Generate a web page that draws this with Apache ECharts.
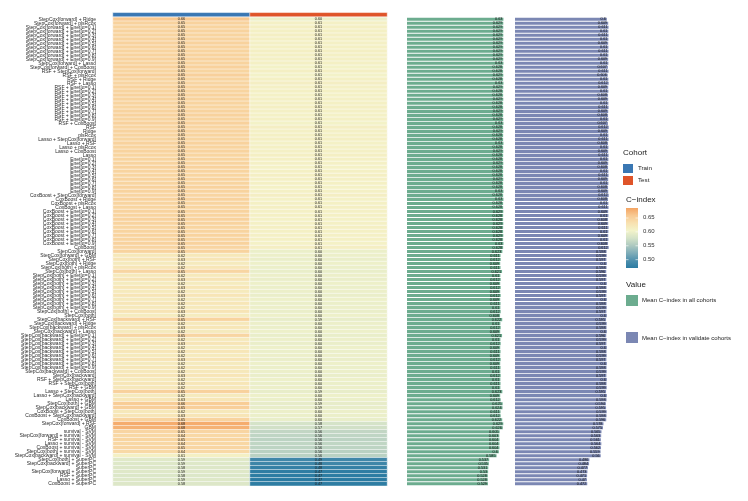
<!DOCTYPE html>
<html><head><meta charset="utf-8">
<script src="https://cdn.jsdelivr.net/npm/echarts@6/dist/echarts.min.js"></script>
<style>html,body{margin:0;padding:0;background:#fff}#c{width:748px;height:501px}</style>
</head><body><div id="c"></div>
<script>
const cohorts = ['Train', 'Test'];
const models = [
'StepCox[forward] + Ridge','StepCox[forward] + plsRcox',
'StepCox[forward] + Enet[α=0.1]','StepCox[forward] + Enet[α=0.2]','StepCox[forward] + Enet[α=0.3]','StepCox[forward] + Enet[α=0.4]','StepCox[forward] + Enet[α=0.5]','StepCox[forward] + Enet[α=0.6]','StepCox[forward] + Enet[α=0.7]','StepCox[forward] + Enet[α=0.8]','StepCox[forward] + Enet[α=0.9]',
'StepCox[forward] + Lasso','StepCox[forward] + CoxBoost',
'RSF + StepCox[forward]','RSF + plsRcox','RSF + Ridge','RSF + Lasso',
'RSF + Enet[α=0.1]','RSF + Enet[α=0.2]','RSF + Enet[α=0.3]','RSF + Enet[α=0.4]','RSF + Enet[α=0.5]','RSF + Enet[α=0.6]','RSF + Enet[α=0.7]','RSF + Enet[α=0.8]','RSF + Enet[α=0.9]',
'RSF + CoxBoost','RSF','Ridge','plsRcox',
'Lasso + StepCox[forward]','Lasso + RSF','Lasso + plsRcox','Lasso + CoxBoost','Lasso',
'Enet[α=0.1]','Enet[α=0.2]','Enet[α=0.3]','Enet[α=0.4]','Enet[α=0.5]','Enet[α=0.6]','Enet[α=0.7]','Enet[α=0.8]','Enet[α=0.9]',
'CoxBoost + StepCox[forward]','CoxBoost + Ridge','CoxBoost + plsRcox','CoxBoost + Lasso',
'CoxBoost + Enet[α=0.1]','CoxBoost + Enet[α=0.2]','CoxBoost + Enet[α=0.3]','CoxBoost + Enet[α=0.4]','CoxBoost + Enet[α=0.5]','CoxBoost + Enet[α=0.6]','CoxBoost + Enet[α=0.7]','CoxBoost + Enet[α=0.8]','CoxBoost + Enet[α=0.9]',
'CoxBoost','StepCox[forward]','StepCox[forward] + GBM',
'StepCox[both] + RSF','StepCox[both] + Ridge','StepCox[both] + plsRcox','StepCox[both] + Lasso',
'StepCox[both] + Enet[α=0.1]','StepCox[both] + Enet[α=0.2]','StepCox[both] + Enet[α=0.3]','StepCox[both] + Enet[α=0.4]','StepCox[both] + Enet[α=0.5]','StepCox[both] + Enet[α=0.6]','StepCox[both] + Enet[α=0.7]','StepCox[both] + Enet[α=0.8]','StepCox[both] + Enet[α=0.9]',
'StepCox[both] + CoxBoost','StepCox[both]',
'StepCox[backward] + RSF','StepCox[backward] + Ridge','StepCox[backward] + plsRcox','StepCox[backward] + Lasso',
'StepCox[backward] + Enet[α=0.1]','StepCox[backward] + Enet[α=0.2]','StepCox[backward] + Enet[α=0.3]','StepCox[backward] + Enet[α=0.4]','StepCox[backward] + Enet[α=0.5]','StepCox[backward] + Enet[α=0.6]','StepCox[backward] + Enet[α=0.7]','StepCox[backward] + Enet[α=0.8]','StepCox[backward] + Enet[α=0.9]',
'StepCox[backward] + CoxBoost','StepCox[backward]',
'RSF + StepCox[backward]','RSF + StepCox[both]','RSF + GBM',
'Lasso + StepCox[both]','Lasso + StepCox[backward]','Lasso + GBM',
'StepCox[both] + GBM','StepCox[backward] + GBM',
'CoxBoost + StepCox[both]','CoxBoost + StepCox[backward]','CoxBoost + GBM',
'StepCox[forward] + RSF','GBM',
'survival - SVM','StepCox[forward] + survival - SVM','RSF + survival - SVM','Lasso + survival - SVM','CoxBoost + survival - SVM','StepCox[both] + survival - SVM','StepCox[backward] + survival - SVM',
'StepCox[both] + SuperPC','StepCox[backward] + SuperPC','SuperPC','StepCox[forward] + SuperPC','RSF + SuperPC','Lasso + SuperPC','CoxBoost + SuperPC'
];
const trainCindex = [
0.660,0.649,0.647,0.648,0.647,0.648,0.649,0.648,0.647,0.648,
0.649,0.648,0.650,0.646,0.651,0.647,0.645,0.648,0.647,0.649,
0.648,0.647,0.646,0.648,0.649,0.647,0.650,0.645,0.648,0.647,
0.646,0.649,0.647,0.648,0.646,0.647,0.648,0.649,0.647,0.646,
0.648,0.647,0.649,0.648,0.645,0.649,0.647,0.646,0.648,0.647,
0.649,0.648,0.646,0.647,0.648,0.647,0.649,0.645,0.648,0.622,
0.626,0.618,0.624,0.645,0.620,0.627,0.617,0.625,0.619,0.626,
0.618,0.624,0.620,0.627,0.616,0.648,0.621,0.625,0.618,0.645,
0.620,0.626,0.617,0.624,0.619,0.627,0.618,0.623,0.621,0.626,
0.619,0.624,0.621,0.650,0.618,0.625,0.655,0.652,0.622,0.626,
0.648,0.680,0.676,0.645,0.642,0.646,0.643,0.645,0.641,0.610,
0.588,0.586,0.585,0.587,0.584,0.586,0.585
];
const testCindex = [
0.600,0.609,0.611,0.610,0.611,0.610,0.609,0.610,0.611,0.610,
0.609,0.610,0.607,0.611,0.606,0.610,0.612,0.609,0.610,0.608,
0.609,0.610,0.611,0.609,0.608,0.610,0.607,0.612,0.609,0.610,
0.611,0.608,0.610,0.609,0.611,0.610,0.609,0.608,0.610,0.611,
0.609,0.610,0.608,0.609,0.612,0.608,0.610,0.611,0.609,0.610,
0.608,0.609,0.611,0.610,0.609,0.610,0.608,0.612,0.598,0.599,
0.597,0.600,0.598,0.596,0.599,0.597,0.600,0.598,0.599,0.597,
0.600,0.598,0.599,0.597,0.600,0.595,0.599,0.598,0.600,0.596,
0.599,0.597,0.600,0.598,0.599,0.597,0.600,0.598,0.599,0.597,
0.600,0.598,0.599,0.595,0.600,0.598,0.594,0.595,0.599,0.598,
0.596,0.578,0.575,0.565,0.563,0.561,0.564,0.562,0.559,0.560,
0.486,0.484,0.477,0.473,0.471,0.470,0.472
];
const meanAll = [
0.630,0.629,0.629,0.629,0.629,0.629,0.629,0.629,0.629,0.629,
0.629,0.630,0.628,0.628,0.629,0.628,0.630,0.629,0.628,0.628,
0.629,0.628,0.628,0.629,0.628,0.629,0.630,0.628,0.629,0.628,
0.628,0.630,0.628,0.629,0.628,0.628,0.629,0.628,0.628,0.628,
0.629,0.628,0.628,0.630,0.628,0.630,0.628,0.628,0.629,0.628,
0.628,0.629,0.628,0.628,0.629,0.628,0.630,0.628,0.623,0.611,
0.612,0.609,0.611,0.621,0.610,0.612,0.609,0.612,0.609,0.612,
0.609,0.611,0.610,0.612,0.608,0.622,0.610,0.612,0.609,0.621,
0.610,0.612,0.609,0.611,0.609,0.612,0.609,0.611,0.610,0.612,
0.610,0.611,0.610,0.623,0.609,0.612,0.625,0.624,0.611,0.612,
0.622,0.629,0.626,0.605,0.603,0.604,0.604,0.604,0.600,0.585,
0.537,0.535,0.531,0.530,0.528,0.528,0.529
];
const meanValidate = [
0.600,0.609,0.611,0.610,0.611,0.610,0.609,0.610,0.611,0.610,
0.609,0.610,0.607,0.611,0.606,0.610,0.612,0.609,0.610,0.608,
0.609,0.610,0.611,0.609,0.608,0.610,0.607,0.612,0.609,0.610,
0.611,0.608,0.610,0.609,0.611,0.610,0.609,0.608,0.610,0.611,
0.609,0.610,0.608,0.609,0.612,0.608,0.610,0.611,0.609,0.610,
0.608,0.609,0.611,0.610,0.609,0.610,0.608,0.612,0.598,0.599,
0.597,0.600,0.598,0.596,0.599,0.597,0.600,0.598,0.599,0.597,
0.600,0.598,0.599,0.597,0.600,0.595,0.599,0.598,0.600,0.596,
0.599,0.597,0.600,0.598,0.599,0.597,0.600,0.598,0.599,0.597,
0.600,0.598,0.599,0.595,0.600,0.598,0.594,0.595,0.599,0.598,
0.596,0.578,0.575,0.565,0.563,0.561,0.564,0.562,0.559,0.560,
0.486,0.484,0.477,0.473,0.471,0.470,0.472
];
const cindexTicks = [0.50, 0.55, 0.60, 0.65];
const cindexRange = [0.47, 0.686];

const FONT = '"Liberation Sans", Arial, sans-serif';
const scaleColors = ['#2b7ba2','#4f90ad','#7fadb9','#adc9c0','#d5e3c8','#f3f3c9','#f8e1b0','#f8c992','#f4a462'];
const cohortColors = ['#3a77b3', '#df5429'];
const greenC = '#6cac8f', purpleC = '#7b87b3';

const heatData = [];
models.forEach((m, i) => {
  heatData.push([0, i, trainCindex[i]]);
  heatData.push([1, i, testCindex[i]]);
});

const fmt3 = p => String(+(+p.value).toFixed(3));
const TOP = 17.2, H = 468.6;

const lgTop = 208, lgH = 60;
const yOf = v => lgTop + (cindexRange[1] - v) / (cindexRange[1] - cindexRange[0]) * lgH;
const graphics = [
  {type:'text', left:623, top:149, style:{text:'Cohort', font:'8px '+FONT, fill:'#222'}},
  {type:'rect', shape:{x:623,y:164,width:10,height:9}, style:{fill:cohortColors[0]}},
  {type:'text', left:638, top:165.5, style:{text:'Train', font:'6.2px '+FONT, fill:'#222'}},
  {type:'rect', shape:{x:623,y:176,width:10,height:9}, style:{fill:cohortColors[1]}},
  {type:'text', left:638, top:177.5, style:{text:'Test', font:'6.2px '+FONT, fill:'#222'}},
  {type:'text', left:626, top:196, style:{text:'C−index', font:'8px '+FONT, fill:'#222'}},
  {type:'rect', shape:{x:626,y:lgTop,width:12,height:lgH}, style:{fill:new echarts.graphic.LinearGradient(0,0,0,1,
      scaleColors.slice().reverse().map((c,k,a)=>({offset:k/(a.length-1), color:c})))}},
  {type:'text', left:626, top:281, style:{text:'Value', font:'8px '+FONT, fill:'#222'}},
  {type:'rect', shape:{x:626,y:295,width:12,height:11}, style:{fill:greenC}},
  {type:'text', left:642, top:297, style:{text:'Mean C−index in all cohorts', font:'6px '+FONT, fill:'#222'}},
  {type:'rect', shape:{x:626,y:332,width:12,height:11}, style:{fill:purpleC}},
  {type:'text', left:642, top:335, style:{text:'Mean C−index in validate cohorts', font:'6px '+FONT, fill:'#222'}}
];
cindexTicks.forEach(t => {
  const y = yOf(t);
  graphics.push({type:'line', shape:{x1:626,y1:y,x2:628.5,y2:y}, style:{stroke:'#fff', lineWidth:0.6}});
  graphics.push({type:'line', shape:{x1:635.5,y1:y,x2:638,y2:y}, style:{stroke:'#fff', lineWidth:0.6}});
  graphics.push({type:'text', left:643, top:y-3.5, style:{text:t.toFixed(2), font:'6px '+FONT, fill:'#333'}});
});

const chart = echarts.init(document.getElementById('c'), null, {renderer:'canvas'});
const hiddenCat = (gi, data, inverse) => ({type:'category', gridIndex:gi, data:data, inverse:!!inverse,
  axisLine:{show:false}, axisTick:{show:false}, axisLabel:{show:false}, splitLine:{show:false}});
const hiddenVal = (gi, max) => ({type:'value', gridIndex:gi, min:0, max:max, show:false, splitLine:{show:false}});

chart.setOption({
  animation:false,
  backgroundColor:'#fff',
  textStyle:{fontFamily:FONT},
  grid:[
    {left:113, top:TOP, width:274, height:H},
    {left:113, top:12.8, width:274, height:3.8},
    {left:407, top:TOP, width:105, height:H},
    {left:515, top:TOP, width:105, height:H}
  ],
  xAxis:[
    hiddenCat(0, cohorts),
    hiddenCat(1, cohorts),
    hiddenVal(2, 0.686),
    hiddenVal(3, 0.686)
  ],
  yAxis:[
    {type:'category', gridIndex:0, data:models, inverse:true,
     axisLine:{show:false}, axisTick:{show:false}, splitLine:{show:false},
     axisLabel:{interval:0, fontSize:5, color:'#2a2a2a', margin:17, fontFamily:FONT}},
    hiddenCat(1, ['Cohort']),
    hiddenCat(2, models, true),
    hiddenCat(3, models, true)
  ],
  visualMap:{type:'continuous', show:false, seriesIndex:0, dimension:2,
    min:cindexRange[0], max:cindexRange[1], inRange:{color:scaleColors}},
  series:[
    {type:'heatmap', xAxisIndex:0, yAxisIndex:0, data:heatData,
     itemStyle:{borderColor:'#fff', borderWidth:0.5},
     label:{show:true, fontSize:3.8, color:'#222', formatter:p => p.value[2].toFixed(2)}},
    {type:'heatmap', xAxisIndex:1, yAxisIndex:1,
     data:cohorts.map((c,i)=>({value:[i,0,i], itemStyle:{color:cohortColors[i]}})),
     itemStyle:{borderColor:'#fff', borderWidth:0.5}},
    {type:'bar', xAxisIndex:2, yAxisIndex:2, data:meanAll, barCategoryGap:'22%',
     itemStyle:{color:greenC},
     label:{show:true, position:'insideRight', distance:1, fontSize:3.8, color:'#111', formatter:fmt3}},
    {type:'bar', xAxisIndex:3, yAxisIndex:3, data:meanValidate, barCategoryGap:'22%',
     itemStyle:{color:purpleC},
     label:{show:true, position:'insideRight', distance:1, fontSize:3.8, color:'#111', formatter:fmt3}}
  ],
  graphic:graphics
});
</script>
</body></html>
